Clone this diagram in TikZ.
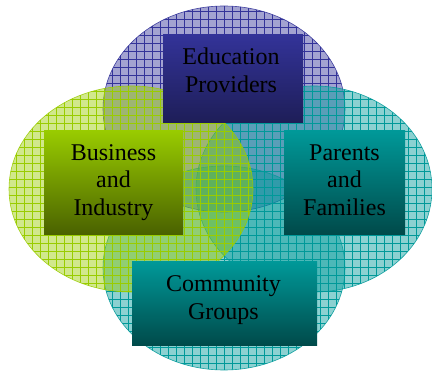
\documentclass[tikz,border=0pt]{standalone}
\usepackage{fontspec}
\setmainfont{Liberation Serif}
\usetikzlibrary{patterns.meta}
\definecolor{edu}{HTML}{333399}
\definecolor{edubot}{HTML}{1E1E58}
\definecolor{bus}{HTML}{99CC00}
\definecolor{busbot}{HTML}{4A6200}
\definecolor{tea}{HTML}{009999}
\definecolor{teabot}{HTML}{004A4A}
\tikzset{
  venn/.style={fill=#1, fill opacity=0.45, draw=#1, draw opacity=0.9, line width=0.6pt},
  gridpat/.style={pattern={Hatch[angle=0,distance=8pt,line width=0.6pt]}, pattern color=#1, fill opacity=0.4},
  box/.style={rectangle, inner sep=0pt, anchor=north west},
  lbl/.style={anchor=base, inner sep=0pt, font=\fontsize{24}{27.5}\selectfont, text=black},
}
\begin{document}
\begin{tikzpicture}[x=1pt,y=-1pt]
\useasboundingbox (0,0) rectangle (432,371);
% ellipses
\path[venn=edu] (224,109) ellipse [x radius=121, y radius=103];
\path[gridpat=edu] (224,109) ellipse [x radius=121, y radius=103];
\path[venn=tea] (314,189) ellipse [x radius=118, y radius=103];
\path[gridpat=tea] (314,189) ellipse [x radius=118, y radius=103];
\path[venn=tea] (224,268) ellipse [x radius=121, y radius=102];
\path[gridpat=tea] (224,268) ellipse [x radius=121, y radius=102];
\path[venn=bus] (131,189) ellipse [x radius=122, y radius=103];
\path[gridpat=bus] (131,189) ellipse [x radius=122, y radius=103];
% boxes
\node[box, minimum width=140pt, minimum height=88pt, top color=edu, bottom color=edubot] (edubox) at (163,34) {};
\node[box, minimum width=139pt, minimum height=104pt, top color=bus, bottom color=busbot] (busbox) at (44,130) {};
\node[box, minimum width=121pt, minimum height=104pt, top color=tea, bottom color=teabot] (parbox) at (284,130) {};
\node[box, minimum width=185pt, minimum height=84pt, top color=tea, bottom color=teabot] (combox) at (132,261) {};
% labels
\node[lbl] (e1) at (231,65) {Education};
\node[lbl] (e2) at (231,92.7) {Providers};
\node[lbl] (b1) at (113.5,161) {Business};
\node[lbl] (b2) at (113.5,188) {and};
\node[lbl] (b3) at (113.5,216) {Industry};
\node[lbl] (p1) at (344.5,161) {Parents};
\node[lbl] (p2) at (344.5,188) {and};
\node[lbl] (p3) at (344.5,216) {Families};
\node[lbl] (c1) at (223.5,291.7) {Community};
\node[lbl] (c2) at (223.5,320) {Groups};
\end{tikzpicture}
\end{document}
